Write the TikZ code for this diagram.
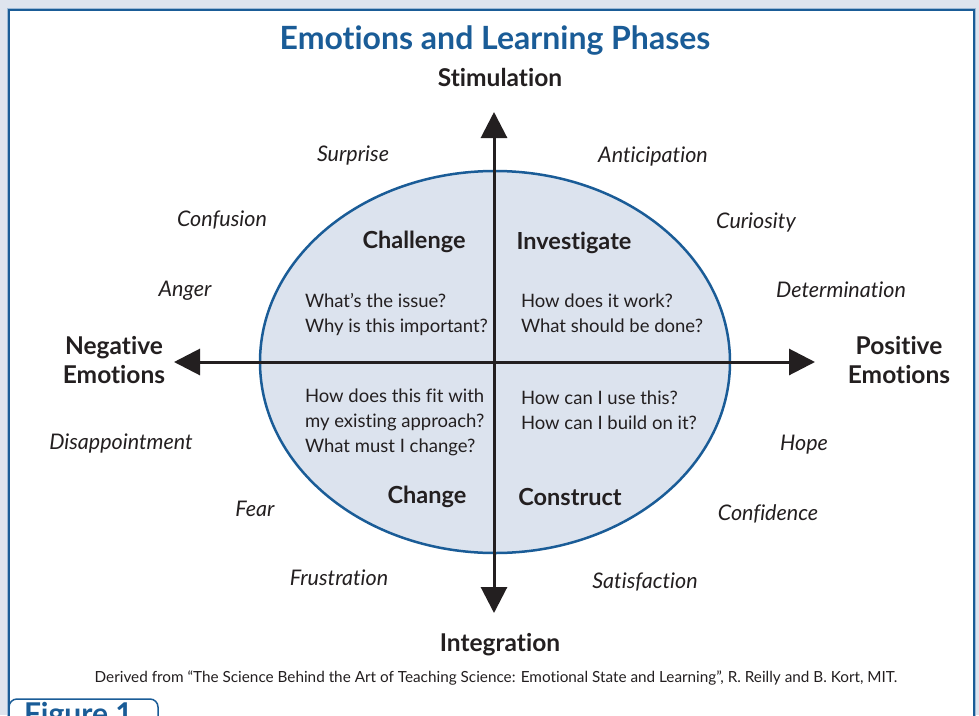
\documentclass[tikz,border=0pt]{standalone}
\usepackage{fontspec}
\setmainfont{Lato}[Ligatures=NoCommon]
\usetikzlibrary{arrows.meta}

\definecolor{panelbg}{HTML}{DEE4EE}
\definecolor{framelight}{HTML}{9DB9D6}
\definecolor{navy}{HTML}{1A5C97}
\definecolor{ink}{HTML}{231F20}
\definecolor{ellfill}{HTML}{DCE3EE}

\begin{document}
\begin{tikzpicture}[x=1pt,y=-1pt,
  every node/.style={inner sep=0pt,outer sep=0pt,text=ink},
  emotion/.style={font=\fontsize{21.5}{25}\selectfont\itshape,anchor=base},
  axislabel/.style={font=\fontsize{24.5}{29}\selectfont\bfseries,anchor=base,align=center},
  phase/.style={font=\fontsize{23.5}{27}\selectfont\bfseries,anchor=base},
  question/.style={font=\fontsize{18.5}{25}\selectfont,anchor=base west,align=left},
  axis/.style={line width=3pt,draw=ink,{Triangle[length=26pt,width=26pt]}-{Triangle[length=26pt,width=26pt]}}
]
% page area
\useasboundingbox (0,0) rectangle (979,715);
\clip (0,0) rectangle (979,715);
\fill[panelbg] (0,0) rectangle (979,715);

% white panel with its double frame
\fill[white] (9,9.5) rectangle (974,730);
\draw[framelight,line width=1pt] (7.5,8) -- (975.5,8) -- (975.5,730);
\draw[framelight,line width=1pt] (7.5,8) -- (7.5,730);
\draw[navy,line width=2pt] (9,730) -- (9,9.5) -- (974,9.5) -- (974,730);

% title
\node[font=\fontsize{32}{36}\selectfont\bfseries,text=navy,anchor=base] (title) at (495,49) {Emotions and Learning Phases};

% phase ellipse
\draw[navy,fill=ellfill,line width=2.5pt] (495,362) ellipse [x radius=235,y radius=191];

% axes
\coordinate (top) at (494,112);
\coordinate (bottom) at (494,613);
\coordinate (left) at (174,362);
\coordinate (right) at (815,362);
\draw[axis] (bottom) -- (top);
\draw[axis] (left) -- (right);

% axis labels (base anchor sits on the last line)
\node[axislabel] (stim) at (500,86) {Stimulation};
\node[axislabel] (integ) at (500,651) {Integration};
\node[axislabel] (neg) at (114,383) {Negative\\Emotions};
\node[axislabel] (pos) at (899,383) {Positive\\Emotions};

% phase names
\node[phase] (challenge) at (414,248) {Challenge};
\node[phase] (investigate) at (574,249) {Investigate};
\node[phase] (change) at (427,503) {Change};
\node[phase] (construct) at (570,505) {Construct};

% guiding questions (base anchor sits on the last line)
\node[question] (q1) at (305,332) {What's the issue?\\Why is this important?};
\node[question] (q2) at (521,332) {How does it work?\\What should be done?};
\node[question] (q3) at (305,452) {How does this fit with\\my existing approach?\\What must I change?};
\node[question] (q4) at (521,429) {How can I use this?\\How can I build on it?};

% emotions
\node[emotion] (surprise) at (353,161) {Surprise};
\node[emotion] (anticipation) at (653,162) {Anticipation};
\node[emotion] (confusion) at (222,226) {Confusion};
\node[emotion] (curiosity) at (756,228) {Curiosity};
\node[emotion] (anger) at (185,296) {Anger};
\node[emotion] (determination) at (841,297) {Determination};
\node[emotion] (disappointment) at (121,449) {Disappointment};
\node[emotion] (hope) at (804,450) {Hope};
\node[emotion] (fear) at (255,516) {Fear};
\node[emotion] (confidence) at (768,520) {Confidence};
\node[emotion] (frustration) at (339,585) {Frustration};
\node[emotion] (satisfaction) at (645,588) {Satisfaction};

% source note
\node[font=\fontsize{15.3}{18}\selectfont,anchor=base] (source) at (496,682)
  {Derived from ``The Science Behind the Art of Teaching Science: Emotional State and Learning'', R. Reilly and B. Kort, MIT.};

% figure tab
\draw[navy,fill=white,line width=1.5pt,rounded corners=8pt] (9,740) -- (9,699) -- (158,699) -- (158,740);
\node[font=\fontsize{30}{34}\selectfont\bfseries,text=navy,anchor=base west] (figtab) at (24,724) {Figure 1};
\end{tikzpicture}
\end{document}
